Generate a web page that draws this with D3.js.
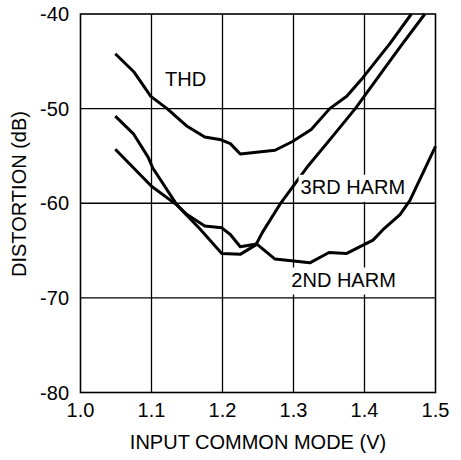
<!DOCTYPE html>
<html>
<head>
<meta charset="utf-8">
<script src="https://cdn.jsdelivr.net/npm/d3@7"></script>
<style>
  body { margin: 0; background: #fff; }
  text { font-family: "Liberation Sans", Arial, sans-serif; fill: #000; }
</style>
</head>
<body>
<div id="chart"></div>
<script>
// values (x = input common mode V, y = distortion dB)
var xTicks = [1.0, 1.1, 1.2, 1.3, 1.4, 1.5];
var yTicks = [-40, -50, -60, -70, -80];

var thd = [
  [1.049, -44.2], [1.075, -46.1], [1.099, -48.7], [1.122, -50.0], [1.149, -51.8],
  [1.175, -53.0], [1.198, -53.3], [1.211, -53.7], [1.225, -54.8], [1.274, -54.4],
  [1.298, -53.5], [1.325, -52.2], [1.351, -50.0], [1.375, -48.7], [1.398, -46.7],
  [1.436, -43.1], [1.466, -40.0]
];
var harm3 = [
  [1.049, -50.8], [1.075, -52.7], [1.095, -55.1], [1.102, -56.3], [1.136, -60.2],
  [1.168, -62.7], [1.199, -65.3], [1.225, -65.4], [1.247, -64.4], [1.256, -63.1],
  [1.281, -60.1], [1.319, -56.2], [1.351, -53.3], [1.387, -50.0], [1.419, -46.7],
  [1.450, -43.5], [1.485, -40.0]
];
var harm2 = [
  [1.049, -54.3], [1.100, -58.2], [1.136, -60.2], [1.150, -61.2], [1.175, -62.4],
  [1.199, -62.6], [1.211, -63.3], [1.225, -64.6], [1.248, -64.3], [1.274, -65.9],
  [1.323, -66.3], [1.350, -65.2], [1.375, -65.3], [1.412, -63.9], [1.426, -62.8],
  [1.450, -61.2], [1.464, -59.7], [1.500, -54.0]
];

var width = 461, height = 460;
var margin = {top: 14, right: 25.5, bottom: 67.5, left: 80.5};

var svg = d3.select("#chart").append("svg")
  .attr("width", width)
  .attr("height", height);

var x = d3.scaleLinear().domain([1.0, 1.5]).range([margin.left, width - margin.right]);
var y = d3.scaleLinear().domain([-80, -40]).range([height - margin.bottom, margin.top]);

// grid
svg.append("g").selectAll("line.vx")
  .data(xTicks.slice(1, -1)).enter().append("line")
  .attr("x1", d => x(d)).attr("x2", d => x(d))
  .attr("y1", y(-40)).attr("y2", y(-80))
  .attr("stroke", "#000").attr("stroke-width", 1.3);
svg.append("g").selectAll("line.hy")
  .data(yTicks.slice(1, -1)).enter().append("line")
  .attr("x1", x(1.0)).attr("x2", x(1.5))
  .attr("y1", d => y(d)).attr("y2", d => y(d))
  .attr("stroke", "#000").attr("stroke-width", 1.3);

// frame
svg.append("rect")
  .attr("x", x(1.0)).attr("y", y(-40))
  .attr("width", x(1.5) - x(1.0)).attr("height", y(-80) - y(-40))
  .attr("fill", "none").attr("stroke", "#000").attr("stroke-width", 1.6);

// curves
var line = d3.line().x(d => x(d[0])).y(d => y(d[1]));
svg.append("g").selectAll("path")
  .data([thd, harm3, harm2]).enter().append("path")
  .attr("d", line)
  .attr("fill", "none")
  .attr("stroke", "#000")
  .attr("stroke-width", 3)
  .attr("stroke-linejoin", "round");

// curve labels (with white backing like the original)
var labels = [
  {text: "THD", x: 1.119, y: -47.6, box: false},
  {text: "3RD HARM", x: 1.310, y: -59.0, box: true},
  {text: "2ND HARM", x: 1.297, y: -68.8, box: true}
];
labels.forEach(function (l) {
  var t = svg.append("text")
    .attr("x", x(l.x)).attr("y", y(l.y))
    .attr("font-size", "20px")
    .text(l.text);
  if (l.box) {
    var b = t.node().getBBox();
    svg.insert("rect", "text")
      .attr("x", b.x - 2).attr("y", b.y - 1)
      .attr("width", b.width + 3).attr("height", b.height + 5)
      .attr("fill", "#fff");
  }
});

// tick labels
svg.append("g").selectAll("text")
  .data(xTicks).enter().append("text")
  .attr("x", d => x(d)).attr("y", 417)
  .attr("text-anchor", "middle")
  .attr("font-size", "20px")
  .text(d => d.toFixed(1));
svg.append("g").selectAll("text")
  .data(yTicks).enter().append("text")
  .attr("x", 69).attr("y", d => y(d) + 7)
  .attr("text-anchor", "end")
  .attr("font-size", "20px")
  .text(d => d);

// axis titles
svg.append("text")
  .attr("x", x(1.25)).attr("y", 449)
  .attr("text-anchor", "middle")
  .attr("font-size", "20px")
  .text("INPUT COMMON MODE (V)");
svg.append("text")
  .attr("transform", "translate(26," + ((109 + 279) / 2) + ") rotate(-90)")
  .attr("text-anchor", "middle")
  .attr("font-size", "20px")
  .text("DISTORTION (dB)");
</script>
</body>
</html>
